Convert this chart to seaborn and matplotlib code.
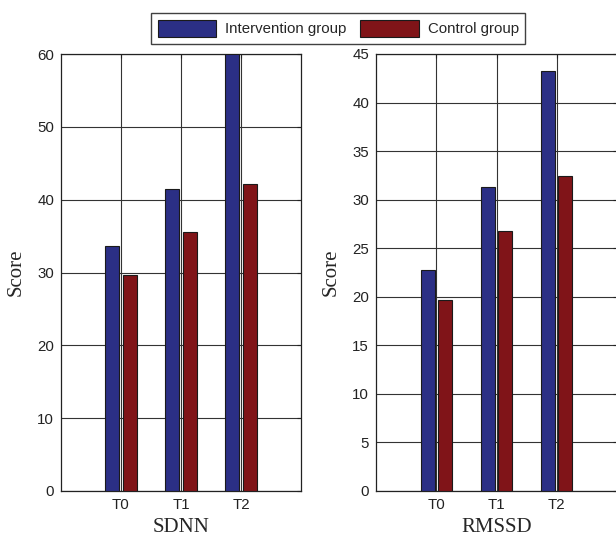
import numpy as np
import pandas as pd
import seaborn as sns
import matplotlib
matplotlib.use("Agg")
import matplotlib.pyplot as plt

# values
times = ["T0", "T1", "T2"]
groups = ["Intervention group", "Control group"]
sdnn_intervention = [33.7, 41.5, 60.0]
sdnn_control = [29.7, 35.6, 42.1]
rmssd_intervention = [22.8, 31.3, 43.2]
rmssd_control = [19.7, 26.8, 32.4]

colors = ["#2B2F85", "#801418"]


def make_df(interv, ctrl):
    return pd.DataFrame({
        "time": times * 2,
        "group": [groups[0]] * 3 + [groups[1]] * 3,
        "score": list(interv) + list(ctrl),
    })


sns.set_style("white")
plt.rcParams["font.family"] = ["Liberation Sans", "DejaVu Sans"]

fig = plt.figure(figsize=(6.16, 5.4), dpi=100)
ax1 = fig.add_axes([61 / 616, 49 / 540, 240 / 616, 437 / 540])
ax2 = fig.add_axes([376 / 616, 49 / 540, 241 / 616, 437 / 540])


def draw(ax, df, ymax, ystep, xlabel):
    sns.barplot(data=df, x="time", y="score", hue="group", hue_order=groups,
                palette=colors, saturation=1, width=0.58, gap=0.2,
                edgecolor="#1a1a1a", linewidth=0.8, ax=ax, legend=False, zorder=3)
    ax.set_xlim(-1, 3)
    ax.set_ylim(0, ymax)
    ax.set_yticks(np.arange(0, ymax + 0.1, ystep))
    ax.set_xticks([0, 1, 2])
    ax.set_xticklabels(times)
    ax.grid(True, color="#333333", linewidth=0.8, zorder=0)
    ax.set_axisbelow(True)
    for s in ax.spines.values():
        s.set_visible(True)
        s.set_color("#222222")
        s.set_linewidth(0.9)
    ax.tick_params(direction="in", top=True, right=True, length=3,
                   labelsize=10.8, colors="#222222", pad=5)
    ax.set_ylabel("Score", family="Liberation Serif", fontsize=15, labelpad=8)
    ax.set_xlabel(xlabel, family="Liberation Serif", fontsize=15, labelpad=4)


draw(ax1, make_df(sdnn_intervention, sdnn_control), 60, 10, "SDNN")
draw(ax2, make_df(rmssd_intervention, rmssd_control), 45, 5, "RMSSD")

handles = [plt.Rectangle((0, 0), 1, 1, facecolor=c, edgecolor="#1a1a1a", linewidth=0.8)
           for c in colors]
leg = fig.legend(handles, groups, loc="upper center", bbox_to_anchor=(0.549, 0.976),
                 ncol=2, frameon=True, fancybox=False, fontsize=10.8,
                 handlelength=3.9, handleheight=1.4, columnspacing=0.9,
                 handletextpad=0.6, borderpad=0.45, borderaxespad=0)
leg.get_frame().set_edgecolor("#111111")
leg.get_frame().set_linewidth(1.0)

fig.savefig("out.png", dpi=100)
